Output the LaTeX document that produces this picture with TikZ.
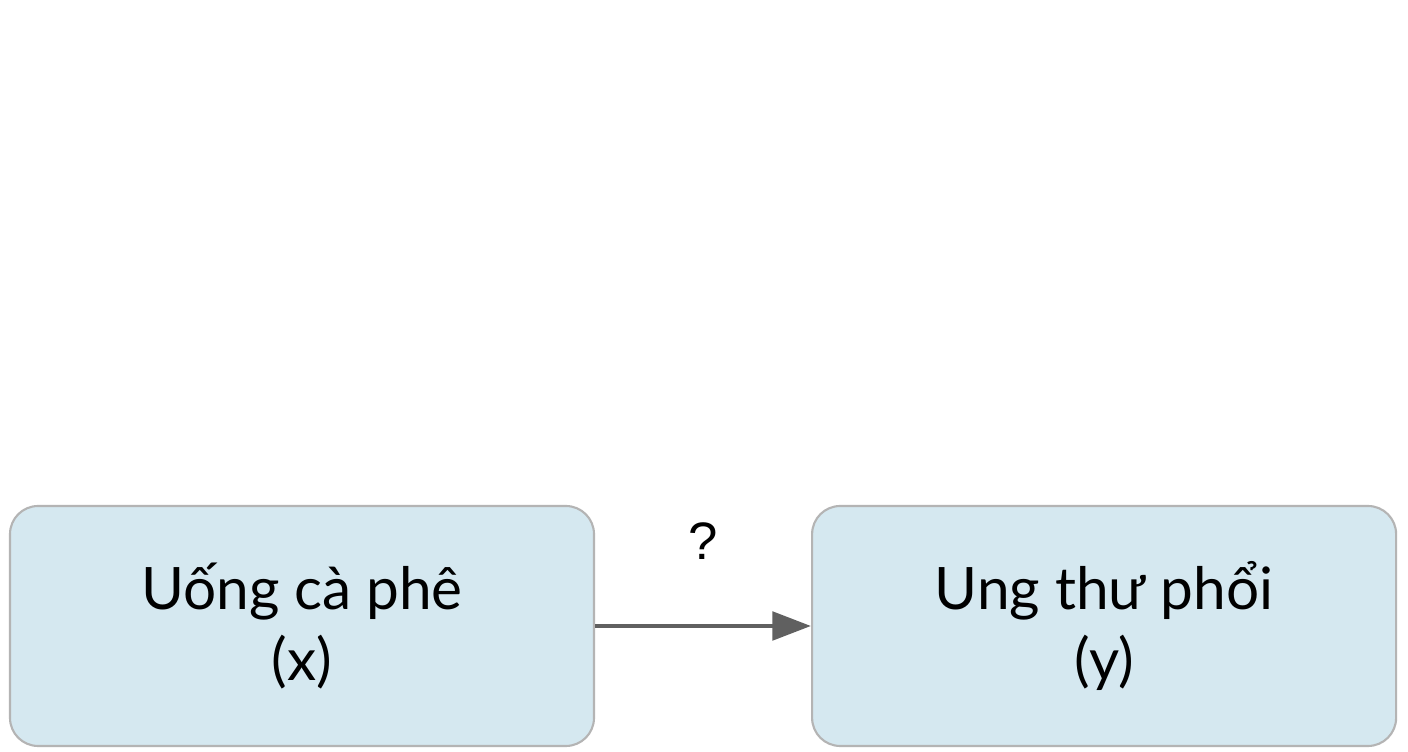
\documentclass[tikz,border=0pt]{standalone}
\usepackage{fontspec}
\setmainfont{Lato}
\newfontfamily\qfont{Liberation Sans}
\usepackage{tikz}
\usetikzlibrary{positioning, arrows.meta}
\definecolor{boxfill}{HTML}{D5E8F0}
\definecolor{boxline}{HTML}{B4B4B4}
\definecolor{arrowgray}{HTML}{606060}
\tikzset{
    varbox/.style={draw=boxline, line width=1.2pt, fill=boxfill, rounded corners=16pt,
        minimum width=11.68cm, minimum height=4.8cm, align=center,
        font=\fontsize{33.3}{40}\selectfont},
    link/.style={-{Triangle[length=22pt, width=16pt]}, arrowgray, line width=2.8pt}
}

\begin{document}
\begin{tikzpicture}
    % Canvas
    \useasboundingbox[fill=white] (0,0) rectangle (28.16,15.04);

    % Variables
    \node[varbox] (coffee) at (6.04,2.52) {Uống cà phê\\(x)};
    \node[varbox, right=4.32cm of coffee] (cancer) {Ung thư phổi\\(y)};

    % Unknown link
    \draw[link] (coffee) -- (cancer)
        node[midway, above=1.28cm, inner sep=0pt, text=black,
             font=\qfont\fontsize{30}{36}\selectfont] (ask) {?};
\end{tikzpicture}
\end{document}
